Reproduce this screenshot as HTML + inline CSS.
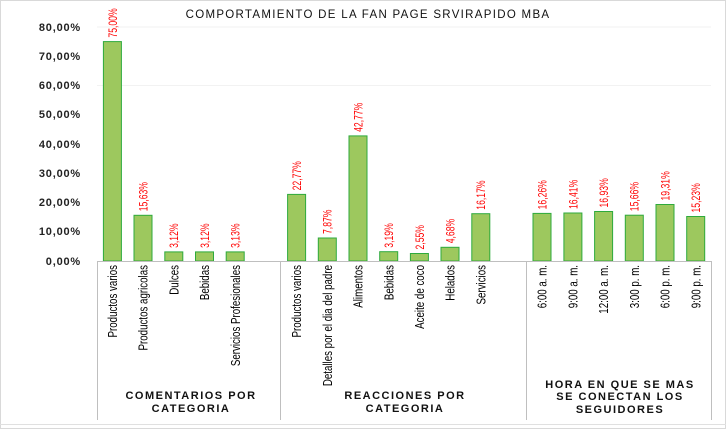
<!DOCTYPE html>
<html><head><meta charset="utf-8"><style>
html,body{margin:0;padding:0;background:#fff}
svg{display:block;font-family:"Liberation Sans",Arial,sans-serif}
.y{font-size:11px;font-weight:bold;fill:#222;text-anchor:end;letter-spacing:0.8px}
.v{font-size:12px;fill:#ff0000}
.c{font-size:12.5px;fill:#000;text-anchor:end}
.g{font-size:11px;font-weight:bold;fill:#111;text-anchor:middle;letter-spacing:1.5px}
rect.b{fill:#9dc85e;stroke:#2eaa3c;stroke-width:1}
</style></head><body>
<svg width="726" height="429" viewBox="0 0 726 429">
<rect x="0.5" y="0.5" width="725" height="428" fill="#fff" stroke="#d9d9d9"/>
<text x="368" y="18" font-size="11.5" text-anchor="middle" letter-spacing="1.3" fill="#111">COMPORTAMIENTO DE LA FAN PAGE SRVIRAPIDO MBA</text>
<line x1="97" y1="27" x2="711" y2="27" stroke="#f2f2f2"/>
<line x1="97" y1="85.5" x2="711" y2="85.5" stroke="#f2f2f2"/>
<g class="y">
<text x="81" y="31">80,00%</text><text x="81" y="60">70,00%</text><text x="81" y="89">60,00%</text><text x="81" y="118">50,00%</text><text x="81" y="148">40,00%</text><text x="81" y="177">30,00%</text><text x="81" y="206">20,00%</text><text x="81" y="235">10,00%</text><text x="81" y="265">0,00%</text>
</g>
<g>
<rect class="b" x="103.4" y="41.6" width="18" height="219.4"/>
<rect class="b" x="134" y="215.3" width="18" height="45.7"/>
<rect class="b" x="164.8" y="251.9" width="18" height="9.1"/>
<rect class="b" x="195.5" y="251.9" width="18" height="9.1"/>
<rect class="b" x="226.2" y="251.9" width="18" height="9.1"/>
<rect class="b" x="287.6" y="194.4" width="18" height="66.6"/>
<rect class="b" x="318.3" y="238" width="18" height="23"/>
<rect class="b" x="349" y="135.9" width="18" height="125.1"/>
<rect class="b" x="379.7" y="251.7" width="18" height="9.3"/>
<rect class="b" x="410.4" y="253.5" width="18" height="7.5"/>
<rect class="b" x="441" y="247.3" width="18" height="13.7"/>
<rect class="b" x="471.8" y="213.7" width="18" height="47.3"/>
<rect class="b" x="533" y="213.4" width="18" height="47.6"/>
<rect class="b" x="563.9" y="213" width="18" height="48"/>
<rect class="b" x="594.6" y="211.5" width="18" height="49.5"/>
<rect class="b" x="625.3" y="215.2" width="18" height="45.8"/>
<rect class="b" x="656" y="204.5" width="18" height="56.5"/>
<rect class="b" x="686.7" y="216.5" width="18" height="44.5"/>
</g>
<g class="v">
<text transform="translate(116.8,37.6) rotate(-90) scale(0.72,1)">75,00%</text>
<text transform="translate(147.4,211.3) rotate(-90) scale(0.72,1)">15,63%</text>
<text transform="translate(178.2,247.9) rotate(-90) scale(0.72,1)">3,12%</text>
<text transform="translate(208.9,247.9) rotate(-90) scale(0.72,1)">3,12%</text>
<text transform="translate(239.6,247.9) rotate(-90) scale(0.72,1)">3,13%</text>
<text transform="translate(301,190.4) rotate(-90) scale(0.72,1)">22,77%</text>
<text transform="translate(331.7,234) rotate(-90) scale(0.72,1)">7,87%</text>
<text transform="translate(362.4,131.9) rotate(-90) scale(0.72,1)">42,77%</text>
<text transform="translate(393.1,247.7) rotate(-90) scale(0.72,1)">3,19%</text>
<text transform="translate(423.8,249.5) rotate(-90) scale(0.72,1)">2,55%</text>
<text transform="translate(454.4,243.3) rotate(-90) scale(0.72,1)">4,68%</text>
<text transform="translate(485.2,209.7) rotate(-90) scale(0.72,1)">16,17%</text>
<text transform="translate(546.4,209.4) rotate(-90) scale(0.72,1)">16,26%</text>
<text transform="translate(577.3,209) rotate(-90) scale(0.72,1)">16,41%</text>
<text transform="translate(608,207.5) rotate(-90) scale(0.72,1)">16,93%</text>
<text transform="translate(638.7,211.2) rotate(-90) scale(0.72,1)">15,66%</text>
<text transform="translate(669.4,200.5) rotate(-90) scale(0.72,1)">19,31%</text>
<text transform="translate(700.1,212.5) rotate(-90) scale(0.72,1)">15,23%</text>
</g>
<g stroke="#bfbfbf" stroke-width="1">
<line x1="97" y1="261.5" x2="711" y2="261.5"/>
<line x1="97.5" y1="261" x2="97.5" y2="420"/>
<line x1="280.5" y1="261" x2="280.5" y2="420"/>
<line x1="526.5" y1="261" x2="526.5" y2="420"/>
<line x1="711.5" y1="261" x2="711.5" y2="420"/>
</g>
<line x1="0" y1="424.5" x2="726" y2="424.5" stroke="#e0e0e0"/>
<g class="c">
<text transform="translate(117,265) rotate(-90) scale(0.78,1)">Productos varios</text>
<text transform="translate(147.6,265) rotate(-90) scale(0.78,1)">Productos agricolas</text>
<text transform="translate(178.4,265) rotate(-90) scale(0.78,1)">Dulces</text>
<text transform="translate(209.1,265) rotate(-90) scale(0.78,1)">Bebidas</text>
<text transform="translate(239.8,265) rotate(-90) scale(0.78,1)">Servicios Profesionales</text>
<text transform="translate(301.2,265) rotate(-90) scale(0.78,1)">Productos varios</text>
<text transform="translate(331.9,265) rotate(-90) scale(0.78,1)">Detalles por el dia del padre</text>
<text transform="translate(362.6,265) rotate(-90) scale(0.78,1)">Alimentos</text>
<text transform="translate(393.3,265) rotate(-90) scale(0.78,1)">Bebidas</text>
<text transform="translate(424,265) rotate(-90) scale(0.78,1)">Aceite de coco</text>
<text transform="translate(454.6,265) rotate(-90) scale(0.78,1)">Helados</text>
<text transform="translate(485.4,265) rotate(-90) scale(0.78,1)">Servicios</text>
<text transform="translate(546.6,265) rotate(-90) scale(0.78,1)">6:00 a. m.</text>
<text transform="translate(577.5,265) rotate(-90) scale(0.78,1)">9:00 a. m.</text>
<text transform="translate(608.2,265) rotate(-90) scale(0.78,1)">12:00 a. m.</text>
<text transform="translate(638.9,265) rotate(-90) scale(0.78,1)">3:00 p. m.</text>
<text transform="translate(669.6,265) rotate(-90) scale(0.78,1)">6:00 p. m.</text>
<text transform="translate(700.3,265) rotate(-90) scale(0.78,1)">9:00 p. m.</text>
</g>
<g class="g">
<text x="191" y="399">COMENTARIOS POR</text>
<text x="191" y="412">CATEGORIA</text>
<text x="405" y="399">REACCIONES POR</text>
<text x="405" y="412">CATEGORIA</text>
<text x="620" y="388">HORA EN QUE SE MAS</text>
<text x="620" y="400">SE CONECTAN LOS</text>
<text x="620" y="413">SEGUIDORES</text>
</g>
</svg>
</body></html>
